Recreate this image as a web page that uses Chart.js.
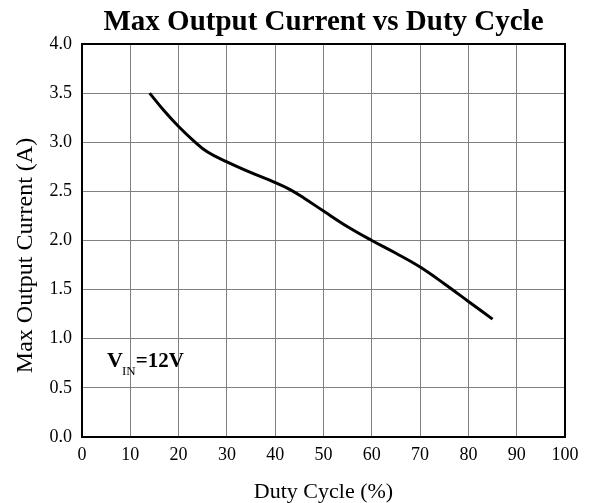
<!DOCTYPE html>
<html>
<head>
<meta charset="utf-8">
<script src="https://cdn.jsdelivr.net/npm/chart.js@4/dist/chart.umd.min.js"></script>
<style>
  html, body { margin: 0; padding: 0; background: #fff; }
  #wrap { width: 594px; height: 503px; }
</style>
</head>
<body>
<div id="wrap"><canvas id="c" width="594" height="503"></canvas></div>
<script>
// ---- data ----
const dutyCycle = [14, 17, 20, 23, 26, 30, 35, 40, 43, 46, 50, 55, 60, 65, 70, 75, 80, 85];
const maxCurrent = [3.50, 3.32, 3.16, 3.02, 2.90, 2.80, 2.69, 2.59, 2.52, 2.43, 2.30, 2.14, 2.00, 1.87, 1.73, 1.56, 1.38, 1.20];
const xTickLabels = ['0', '10', '20', '30', '40', '50', '60', '70', '80', '90', '100'];
const yTickLabels = ['0.0', '0.5', '1.0', '1.5', '2.0', '2.5', '3.0', '3.5', '4.0'];
const titleText = 'Max Output Current vs Duty Cycle';
const xTitle = 'Duty Cycle (%)';
const yTitle = 'Max Output Current (A)';

const SERIF = "'Liberation Serif', 'Times New Roman', Times, serif";

const framePlugin = {
  id: 'frame',
  afterDatasetsDraw(chart) {
    const { ctx, chartArea: a } = chart;
    ctx.save();
    ctx.strokeStyle = '#000';
    ctx.lineWidth = 2;
    ctx.strokeRect(a.left, a.top, a.right - a.left, a.bottom - a.top);
    ctx.restore();
  }
};

const textPlugin = {
  id: 'extraText',
  afterDraw(chart, args, opts) {
    const { ctx, chartArea: a, scales } = chart;
    ctx.save();
    ctx.fillStyle = '#000';
    // y-axis title
    ctx.font = '24px ' + SERIF;
    ctx.textAlign = 'center';
    ctx.textBaseline = 'alphabetic';
    ctx.translate(opts.yTitleX, (a.top + a.bottom) / 2 + opts.yTitleShift);
    ctx.rotate(-Math.PI / 2);
    ctx.fillText(yTitle, 0, 0);
    ctx.restore();

    // V_IN = 12V annotation
    ctx.save();
    ctx.fillStyle = '#000';
    ctx.textAlign = 'left';
    ctx.textBaseline = 'alphabetic';
    let x = scales.x.getPixelForValue(opts.noteX);
    const y = scales.y.getPixelForValue(opts.noteY);
    ctx.font = 'bold 22px ' + SERIF;
    ctx.fillText('V', x, y);
    x += ctx.measureText('V').width - 1;
    ctx.font = '13px ' + SERIF;
    ctx.fillText('IN', x, y + 8);
    x += ctx.measureText('IN').width;
    ctx.font = 'bold 21px ' + SERIF;
    ctx.fillText('=12V', x, y);
    ctx.restore();
  }
};

new Chart(document.getElementById('c'), {
  type: 'line',
  data: {
    datasets: [{
      data: dutyCycle.map((d, i) => ({ x: d, y: maxCurrent[i] })),
      borderColor: '#000',
      borderWidth: 3,
      pointRadius: 0,
      fill: false,
      tension: 0.4
    }]
  },
  options: {
    responsive: false,
    animation: false,
    layout: { padding: { left: 0, right: 29, top: 0, bottom: 0 } },
    plugins: {
      legend: { display: false },
      tooltip: { enabled: false },
      title: {
        display: true,
        text: titleText,
        fullSize: false,
        color: '#000',
        font: { family: SERIF, size: 29, weight: 'bold', lineHeight: 1.2 },
        padding: { top: 5, bottom: 4.2 }
      },
      extraText: { yTitleX: 32, yTitleShift: 15, noteX: 5.2, noteY: 0.71 }
    },
    scales: {
      x: {
        type: 'linear',
        min: 0, max: 100,
        afterFit(s) { s.height = 66; },
        grid: { color: '#808080', lineWidth: 1, drawTicks: false },
        border: { color: '#000', width: 2 },
        ticks: {
          stepSize: 10,
          padding: 7,
          color: '#000',
          maxRotation: 0,
          font: { family: SERIF, size: 18 },
          callback: (v, i) => xTickLabels[i]
        },
        title: {
          display: true,
          text: xTitle,
          color: '#000',
          font: { family: SERIF, size: 22 },
          padding: { top: 0, bottom: -2 }
        }
      },
      y: {
        min: 0, max: 4,
        afterFit(s) { s.width = 82; },
        grid: { color: '#808080', lineWidth: 1, drawTicks: false },
        border: { color: '#000', width: 2 },
        ticks: {
          stepSize: 0.5,
          padding: 10,
          color: '#000',
          font: { family: SERIF, size: 18 },
          callback: (v, i) => yTickLabels[i]
        }
      }
    }
  },
  plugins: [framePlugin, textPlugin]
});
</script>
</body>
</html>
